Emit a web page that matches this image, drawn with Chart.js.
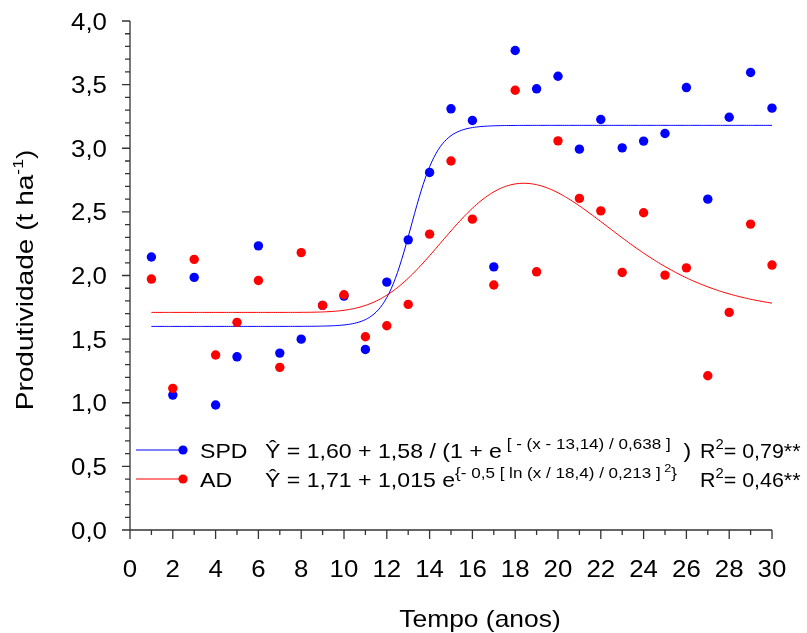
<!DOCTYPE html>
<html>
<head>
<meta charset="utf-8">
<script src="https://cdn.jsdelivr.net/npm/chart.js@4.4.1/dist/chart.umd.min.js"></script>
<style>
  body { margin: 0; background: #fff; }
  #wrap { width: 807px; height: 633px; }
</style>
</head>
<body>
<div id="wrap"><canvas id="chart" width="807" height="633"></canvas></div>
<script>
// years 1..30
var anos = [];
for (var i = 1; i <= 30; i++) anos.push(i);

// productivity, t/ha
var spd = [2.145, 1.06, 1.985, 0.982, 1.361, 2.233, 1.39, 1.50, 1.765, 1.838,
           1.419, 1.948, 2.28, 2.81, 3.31, 3.218, 2.068, 3.768, 3.467, 3.566,
           2.993, 3.226, 3.003, 3.056, 3.116, 3.477, 2.60, 3.244, 3.595, 3.315];
var ad  = [1.972, 1.113, 2.127, 1.375, 1.632, 1.961, 1.278, 2.18, 1.765, 1.849,
           1.519, 1.605, 1.773, 2.325, 2.90, 2.443, 1.925, 3.456, 2.029, 3.058,
           2.606, 2.508, 2.024, 2.493, 2.003, 2.06, 1.212, 1.71, 2.404, 2.082];

// fitted coefficients (sigmoid for SPD, log-normal peak for AD)
var spdCoef = [1.60, 1.58, 13.14, 0.638];
var adCoef  = [1.71, 1.015, 18.4, 0.213];

var xTicks = [0, 2, 4, 6, 8, 10, 12, 14, 16, 18, 20, 22, 24, 26, 28, 30];
var yTicks = [0, 0.5, 1, 1.5, 2, 2.5, 3, 3.5, 4];

function fitSpd(x) {
  return spdCoef[0] + spdCoef[1] / (1 + Math.exp(-(x - spdCoef[2]) / spdCoef[3]));
}
function fitAd(x) {
  var t = Math.log(x / adCoef[2]) / adCoef[3];
  return adCoef[0] + adCoef[1] * Math.exp(-0.5 * t * t);
}

var curveSpd = [], curveAd = [];
for (var k = 0; k <= 290; k++) {
  var xv = 1 + k * 0.1;
  curveSpd.push({x: xv, y: fitSpd(xv)});
  curveAd.push({x: xv, y: fitAd(xv)});
}

function pts(vals) {
  return vals.map(function (v, i) { return {x: anos[i], y: v}; });
}

var FONT = '"Liberation Sans", Arial, sans-serif';

function txt(ctx, s, x, y, size, align, sx) {
  sx = sx || 1.1;
  ctx.save();
  ctx.font = size + 'px ' + FONT;
  ctx.textBaseline = 'alphabetic';
  var w = ctx.measureText(s).width * sx;
  var x0 = align === 'right' ? x - w : align === 'center' ? x - w / 2 : x;
  ctx.translate(x0, y);
  ctx.scale(sx, 1);
  ctx.fillText(s, 0, 0);
  ctx.restore();
  return x0 + w;
}

// runs of [text, size, raise, stretch]
function runs(ctx, parts, x, y) {
  parts.forEach(function (p) {
    x = txt(ctx, p[0], x, y - (p[2] || 0), p[1], 'left', p[3]);
  });
  return x;
}

var decor = {
  id: 'decor',
  afterDraw: function (chart) {
    var ctx = chart.ctx;
    var xs = chart.scales.x, ys = chart.scales.y;
    var L = xs.left, B = ys.bottom;
    ctx.save();
    ctx.strokeStyle = '#333';
    ctx.fillStyle = '#000';
    ctx.lineWidth = 1.3;

    ctx.beginPath();
    ctx.moveTo(L, ys.getPixelForValue(4));
    ctx.lineTo(L, B);
    ctx.lineTo(xs.getPixelForValue(30), B);
    for (var i = 0; i <= 40; i++) {
      var py = ys.getPixelForValue(i / 10);
      ctx.moveTo(L - (i % 5 === 0 ? 8 : 5), py);
      ctx.lineTo(L, py);
    }
    for (var j = 0; j <= 30; j++) {
      var px = xs.getPixelForValue(j);
      ctx.moveTo(px, B);
      ctx.lineTo(px, B + (j % 2 === 0 ? 9 : 5));
    }
    ctx.stroke();

    yTicks.forEach(function (v) {
      txt(ctx, v.toFixed(1).replace('.', ','), 107, ys.getPixelForValue(v) + 8.5, 23.5, 'right');
    });
    xTicks.forEach(function (v) {
      txt(ctx, String(v), xs.getPixelForValue(v), 577, 23.5, 'center');
    });

    txt(ctx, 'Tempo (anos)', 480, 627, 24, 'center');

    // y title, rotated and stretched along the text
    ctx.save();
    ctx.translate(33, 280);
    ctx.rotate(-Math.PI / 2);
    var SY = 1.17;
    var a = 'Produtividade (t ha', b = '-1', c = ')';
    ctx.font = '24px ' + FONT;
    var wa = ctx.measureText(a).width, wc = ctx.measureText(c).width;
    ctx.font = '15px ' + FONT;
    var wb = ctx.measureText(b).width;
    ctx.scale(SY, 1);
    var x0 = -(wa + wb + wc) / 2;
    ctx.font = '24px ' + FONT;
    ctx.fillText(a, x0, 0);
    ctx.fillText(c, x0 + wa + wb, 0);
    ctx.font = '15px ' + FONT;
    ctx.fillText(b, x0 + wa, -10);
    ctx.restore();

    // legend with equations
    var rows = [
      {c: '#0000ff', y: 450, name: 'SPD', eq: [
        ['\u0176 = 1,60 + 1,58 / (1 + e', 21, 0],
        [' [ - (x - 13,14) / 0,638 ]', 15.5, 9],
        ['  )', 21, 0]], r2: '0,79**'},
      {c: '#ff0000', y: 479, name: 'AD', eq: [
        ['\u0176 = 1,71 + 1,015 e', 21, 0],
        ['{- 0,5 [ ln (x / 18,4) / 0,213 ]', 15.5, 9],
        [' 2', 11.5, 15],
        ['}', 15.5, 9]], r2: '0,46**'}
    ];
    rows.forEach(function (r) {
      ctx.strokeStyle = r.c;
      ctx.lineWidth = 1;
      ctx.beginPath();
      ctx.moveTo(136, r.y);
      ctx.lineTo(183, r.y);
      ctx.stroke();
      ctx.fillStyle = r.c;
      ctx.beginPath();
      ctx.arc(183, r.y, 4.6, 0, Math.PI * 2);
      ctx.fill();
      ctx.fillStyle = '#000';
      var base = r.y + 7.5;
      txt(ctx, r.name, 200, base, 21, 'left');
      runs(ctx, r.eq, 265, base);
      runs(ctx, [['R', 21, 0, 1.02], ['2', 14.5, 9, 1.02], ['= ' + r.r2, 21, 0, 1.02]], 700, base);
    });
    ctx.restore();
  }
};

new Chart(document.getElementById('chart'), {
  type: 'scatter',
  data: {
    datasets: [{
      label: 'AD',
      data: pts(ad),
      backgroundColor: '#ff0000',
      pointRadius: 4.7,
      pointBorderWidth: 0,
      clip: false
    }, {
      label: 'SPD',
      data: pts(spd),
      backgroundColor: '#0000ff',
      pointRadius: 4.7,
      pointBorderWidth: 0,
      clip: false
    }, {
      label: 'AD fit',
      data: curveAd,
      showLine: true,
      borderColor: '#ff0000',
      borderWidth: 1,
      pointRadius: 0
    }, {
      label: 'SPD fit',
      data: curveSpd,
      showLine: true,
      borderColor: '#0000ff',
      borderWidth: 1,
      pointRadius: 0
    }]
  },
  options: {
    responsive: false,
    animation: false,
    events: [],
    layout: { padding: { top: 21, right: 35, left: 0, bottom: 0 } },
    plugins: { legend: { display: false }, tooltip: { enabled: false } },
    scales: {
      x: {
        type: 'linear', min: 0, max: 30,
        grid: { display: false }, border: { display: false },
        ticks: { display: false },
        afterFit: function (s) { s.height = 103; }
      },
      y: {
        min: 0, max: 4,
        grid: { display: false }, border: { display: false },
        ticks: { display: false },
        afterFit: function (s) { s.width = 130; }
      }
    }
  },
  plugins: [decor]
});
</script>
</body>
</html>
